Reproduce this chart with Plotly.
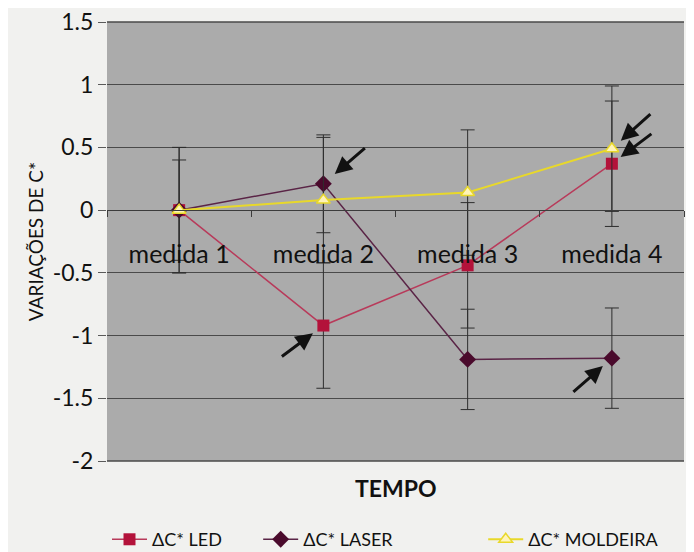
import plotly.graph_objects as go

categories = ["medida 1", "medida 2", "medida 3", "medida 4"]
led = [0.0, -0.92, -0.44, 0.37]
laser = [0.0, 0.21, -1.19, -1.18]
moldeira = [0.0, 0.08, 0.14, 0.49]
led_err = [0.5, 0.5, 0.5, 0.5]
laser_err = [0.4, 0.39, 0.4, 0.4]
moldeira_err = [0.5, 0.5, 0.5, 0.5]
y_ticks = [-2, -1.5, -1, -0.5, 0, 0.5, 1, 1.5]

# arrows: (series, category index, tail dx, tail dy, standoff)
arrows = [
    (laser, 1, 43, -37, 15),
    (led, 1, -43, 32, 13),
    (moldeira, 3, 40, -36, 12),
    (led, 3, 41, -31, 11),
    (laser, 3, -40, 35, 12),
]

FONT = "Lato"
fig = go.Figure()

err_style = dict(type="data", color="#2e2e2e", thickness=1, width=7)

fig.add_trace(go.Scatter(
    x=categories, y=led, name="ΔC* LED", mode="lines+markers",
    line=dict(color="#b83a5a", width=1.5),
    marker=dict(symbol="square", size=12, color="#b3123a"),
    error_y=dict(array=led_err, **err_style),
    legend="legend",
))
fig.add_trace(go.Scatter(
    x=categories, y=laser, name="ΔC* LASER", mode="lines+markers",
    line=dict(color="#5a2446", width=1.5),
    marker=dict(symbol="diamond", size=13, color="#4a0a2c"),
    error_y=dict(array=laser_err, **err_style),
    legend="legend2",
))
fig.add_trace(go.Scatter(
    x=categories, y=moldeira, name="ΔC* MOLDEIRA", mode="lines+markers",
    line=dict(color="#e8d82a", width=2),
    marker=dict(symbol="triangle-up", size=12, color="#fff4b8",
                line=dict(color="#e8d82a", width=1.5)),
    error_y=dict(array=moldeira_err, **err_style),
    legend="legend3",
))

annotations = []
for series, ci, dx, dy, so in arrows:
    annotations.append(dict(
        x=categories[ci], y=series[ci], xref="x", yref="y",
        ax=dx, ay=dy, axref="pixel", ayref="pixel",
        text="", showarrow=True, arrowhead=2, arrowsize=1.15,
        arrowwidth=3, arrowcolor="#111111", standoff=so,
    ))
annotations.append(dict(
    text="<b>TEMPO</b>", x=0.5, y=-0.061, xref="paper", yref="paper",
    xanchor="center", yanchor="middle", showarrow=False,
    font=dict(family=FONT, size=23, color="#111111"),
))

leg_common = dict(orientation="h", y=-0.179, yanchor="middle", xanchor="left",
                  font=dict(family=FONT, size=18, color="#111111"),
                  bgcolor="rgba(0,0,0,0)", itemwidth=35)

# top and bottom frame lines of the plot area (gridlines at range edges are not drawn)
frame = [
    dict(type="line", xref="paper", yref="paper", x0=0, x1=1, y0=1, y1=1,
         line=dict(color="#4a4a4a", width=1.5), layer="above"),
    dict(type="line", xref="paper", yref="paper", x0=0, x1=1, y0=0, y1=0,
         line=dict(color="#4a4a4a", width=1.5), layer="above"),
]

# the page body adds an 8px offset; size figure so it fills the 694x552 window
fig.update_layout(
    width=686, height=544,
    margin=dict(l=99, r=10, t=14, b=91, autoexpand=False),
    paper_bgcolor="#f1f1ef",
    plot_bgcolor="#ababab",
    font=dict(family=FONT, color="#111111"),
    showlegend=True,
    legend=dict(x=0.0, **leg_common),
    legend2=dict(x=0.262, **leg_common),
    legend3=dict(x=0.652, **leg_common),
    annotations=annotations,
    shapes=frame,
    xaxis=dict(
        type="category", range=[-0.5, 3.5],
        anchor="free", position=2 / 3.5,
        showgrid=False, zeroline=False,
        showline=True, linecolor="#3c3c3c", linewidth=1,
        ticks="outside", tickson="boundaries", ticklen=6, tickcolor="#3c3c3c",
        ticklabelstandoff=22,
        tickfont=dict(family=FONT, size=25, color="#111111"),
    ),
    yaxis=dict(
        range=[-2, 1.5], tickvals=y_ticks, ticktext=[str(v) for v in y_ticks],
        showgrid=True, gridcolor="#4a4a4a", gridwidth=1,
        zeroline=False, showline=False,
        ticks="outside", ticklen=8, tickcolor="#5a5a5a",
        ticklabeloverflow="allow",
        tickfont=dict(family=FONT, size=23, color="#111111"),
        title=dict(text="VARIAÇÕES DE C*", font=dict(family=FONT, size=19, color="#111111"),
                   standoff=4),
    ),
)

fig.write_html("out.html")
